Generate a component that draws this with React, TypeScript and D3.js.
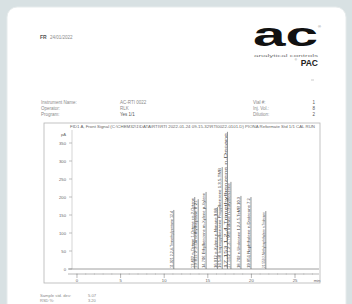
import React from "react";
import * as d3 from "d3";

// chromatogram peaks: retention time (min), height (pA), label
const peakTimes = [11.0, 13.4, 13.8, 14.7, 16.0, 16.55, 17.15, 17.55, 18.7, 19.85, 21.55];
const peakHeights = [164, 200, 194, 214, 172, 283, 381, 242, 203, 200, 161];
const peakLabels = [
  "11.021 2,2,4-Trimethylpentane 12.4",
  "13.402 n-Octane 1-Octene cis-2-Octene",
  "13.811 2,3-Dimethylheptane 8.21",
  "14.706 Ethylbenzene m-Xylene p-Xylene",
  "16.012 o-Xylene n-Nonane 9.88",
  "16.548 Isopropylbenzene Propylbenzene 1,3,5-TMB",
  "17.153 1,2,4-Trimethylbenzene n-Decane",
  "17.552 1,2,3-TMB Indane n-Butylbenzene",
  "18.702 n-Undecane 1,2,4,5-TeMB 10.3",
  "19.851 Naphthalene n-Dodecane 7.2",
  "21.553 2-Methylnaphthalene n-Tridecane",
];
const yTicks = [0, 50, 100, 150, 200, 250, 300, 350];
const xTicks = [0, 5, 10, 15, 20, 25];

const headerLeft = ["Instrument Name:", "Operator:", "Program:"];
const headerMid = ["AC-RTI 0022", "RLK", "Yes 1/1"];
const headerRight = ["Vial #:", "Inj. Vol.:", "Dilution:"];
const headerRightVal = ["1", "8", "2"];

export default function App() {
  const W = 352, H = 304;
  const x = d3.scaleLinear().domain([-0.57, 27.75]).range([72, 319]);
  const y = d3.scaleLinear().domain([0, 350]).range([269, 143]);
  const txt = "#8a8a8a";
  const font = "Liberation Sans, Arial, sans-serif";

  return (
    <svg width={W} height={H} style={{ position: "absolute", left: 0, top: 0 }}>
      <rect width={W} height={H} fill="#d8e1e3" />
      <rect x={7} y={7} width={339} height={320} rx={10} fill="#ffffff" stroke="#e6ebec" strokeWidth={1} />

      {/* top left */}
      <text x={40} y={39} fontFamily={font} fontSize={5} fill="#555" fontWeight="bold">FR</text>
      <text x={50} y={39} fontFamily={font} fontSize={4.5} fill={txt}>24/01/2022</text>

      {/* logo */}
      <text x={253} y={46} fontFamily={font} fontSize={34} fontWeight={900} fill="#111"
        textLength={65} lengthAdjust="spacingAndGlyphs">ac</text>
      <text x={318} y={28} fontFamily={font} fontSize={4} fill="#777">®</text>
      <text x={254} y={56.5} fontFamily={font} fontSize={3.4} fill="#777"
        textLength={64} lengthAdjust="spacingAndGlyphs">analytical controls</text>
      <text x={318} y={65.5} fontFamily={font} fontSize={8.5} fontWeight="bold" fill="#222"
        textAnchor="end">PAC</text>
      <text x={297} y={60.5} fontFamily={font} fontSize={3} fill="#777" textAnchor="end">®</text>
      <line x1={311} x2={314} y1={80} y2={80} stroke="#aaa" strokeWidth={0.6} />

      {/* header fields */}
      {headerLeft.map((s, i) => (
        <g key={s} fontFamily={font} fontSize={4.5} fill={txt}>
          <text x={41} y={104 + i * 5.8}>{s}</text>
          <text x={120} y={104 + i * 5.8} fill={i === 2 ? "#555" : txt}>{headerMid[i]}</text>
          <text x={253} y={104 + i * 5.8}>{headerRight[i]}</text>
          <text x={315} y={104 + i * 5.8} textAnchor="end" fill="#555">{headerRightVal[i]}</text>
        </g>
      ))}

      {/* chart frame */}
      <rect x={44} y={123} width={276} height={160} fill="none" stroke="#b5b5b5" strokeWidth={0.8} />
      <text x={70} y={127.5} fontFamily={font} fontSize={3.6} fill="#666"
        textLength={245} lengthAdjust="spacingAndGlyphs">
        FID1 A, Front Signal (C:\CHEM32\1\DATA\RTI\RTI 2022-01-24 09-15-32\RTI0022-0101.D) PIONA Reformate Std 1/1 CAL RUN
      </text>

      {/* y axis */}
      <line x1={72} x2={72} y1={130} y2={269} stroke="#bbb" strokeWidth={0.6} />
      {yTicks.map(t => (
        <g key={t}>
          <line x1={69} x2={72} y1={y(t)} y2={y(t)} stroke="#999" strokeWidth={0.6} />
          <text x={66} y={y(t) + 1.5} fontFamily={font} fontSize={4.2} fill="#666" textAnchor="end">{t}</text>
        </g>
      ))}
      <text x={66} y={135.5} fontFamily={font} fontSize={4.2} fill="#666" textAnchor="end">pA</text>

      {/* signal baseline */}
      <line x1={68} x2={319} y1={y(0)} y2={y(0)} stroke="#888" strokeWidth={0.8} />

      {/* x axis */}
      <line x1={68} x2={319} y1={274} y2={274} stroke="#999" strokeWidth={0.7} />
      {d3.range(0, 28, 1).map(t => (
        <line key={"m" + t} x1={x(t)} x2={x(t)} y1={273} y2={275} stroke="#aaa" strokeWidth={0.4} />
      ))}
      {xTicks.map(t => (
        <g key={t}>
          <line x1={x(t)} x2={x(t)} y1={274} y2={278} stroke="#888" strokeWidth={0.6} />
          <text x={x(t)} y={282} fontFamily={font} fontSize={4.2} fill="#666" textAnchor="middle">{t}</text>
        </g>
      ))}
      <text x={317} y={282} fontFamily={font} fontSize={4.2} fill="#666" textAnchor="middle">min</text>

      {/* peaks */}
      {peakTimes.map((t, i) => {
        const px = x(t), top = y(peakHeights[i]);
        const len = y(0) - top - 2;
        return (
          <g key={t}>
            <line x1={px + 0.9} x2={px + 0.9} y1={y(0)} y2={top} stroke="#666" strokeWidth={0.7} />
            <text transform={`translate(${px},${y(0) - 1}) rotate(-90)`} fontFamily={font}
              fontSize={3.8} fill="#444" textLength={len} lengthAdjust="spacingAndGlyphs">
              {peakLabels[i]}
            </text>
          </g>
        );
      })}

      {/* footer */}
      <text x={40} y={297} fontFamily={font} fontSize={4.2} fill={txt}>Sample std. dev:</text>
      <text x={88} y={297} fontFamily={font} fontSize={4.2} fill={txt}>5.07</text>
      <text x={40} y={302.3} fontFamily={font} fontSize={4} fill={txt}>RSD %:</text>
      <text x={88} y={302.3} fontFamily={font} fontSize={4} fill={txt}>3.20</text>
    </svg>
  );
}
